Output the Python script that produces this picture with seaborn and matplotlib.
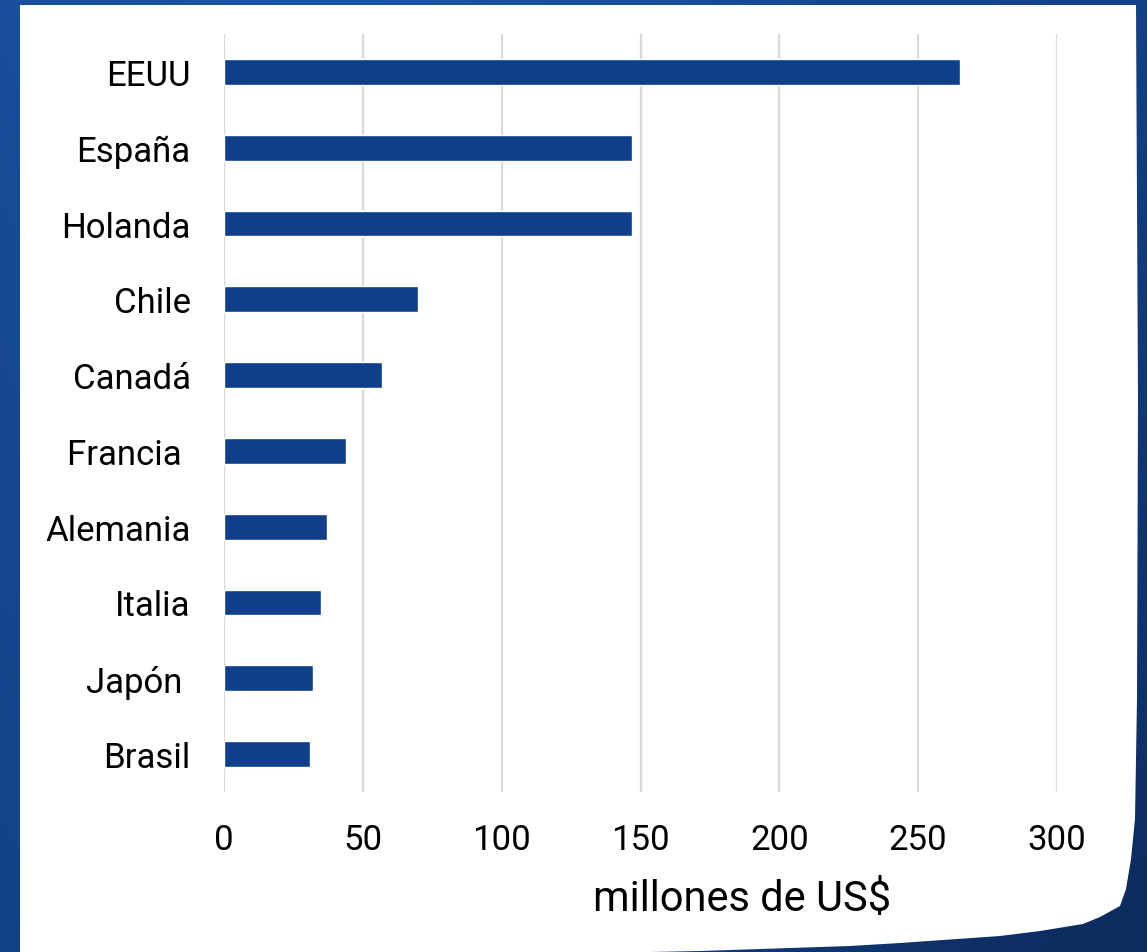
import numpy as np
import pandas as pd
import matplotlib
matplotlib.use("Agg")
import matplotlib.pyplot as plt
from matplotlib.patches import Polygon
from matplotlib.colors import LinearSegmentedColormap
import seaborn as sns

# ---- data ----
countries = ["EEUU", "España", "Holanda", "Chile", "Canadá", "Francia ",
             "Alemania", "Italia", "Japón ", "Brasil"]
values = [265, 147, 147, 70, 57, 44, 37, 35, 32, 31]
x_ticks = [0, 50, 100, 150, 200, 250, 300]
x_label = "millones de US$"

df = pd.DataFrame({"pais": countries, "valor": values})

sns.set_theme(style="white")
plt.rcParams["font.family"] = ["Roboto", "DejaVu Sans"]

W, H = 1147, 953
fig = plt.figure(figsize=(W / 100, H / 100), dpi=100)

# ---- background: blue gradient ----
bg = fig.add_axes([0, 0, 1, 1])
bg.set_axis_off()
yy, xx = np.mgrid[0:1:200j, 0:1:240j]
field = 0.55 + 0.35 * np.sin(np.pi * xx * 1.3 + 0.4) * 0.5 + 0.25 * (1 - yy) - 0.25 * yy * xx
field = np.clip(field, 0, 1)
cmap = LinearSegmentedColormap.from_list("bl", ["#0d2c5e", "#123e80", "#1a53a3"])
bg.imshow(field, cmap=cmap, extent=[0, W, 0, H], origin="upper", aspect="auto")
bg.set_xlim(0, W)
bg.set_ylim(0, H)

page_px = [(20, 6), (1136, 6), (1138, 400), (1137, 700), (1135, 820), (1131, 860),
           (1126, 890), (1120, 907), (1100, 918), (1083, 925), (1040, 932),
           (1000, 937), (900, 944), (850, 947), (700, 952), (500, 956), (20, 960)]
page = Polygon([(x, H - y) for x, y in page_px], closed=True,
               facecolor="white", edgecolor="none")
bg.add_patch(page)

# ---- chart ----
ax = fig.add_axes([224 / W, (H - 793) / H, (1057 - 224) / W, (793 - 35) / H])
ax.set_facecolor("none")
sns.barplot(data=df, x="valor", y="pais", orient="h", color="#0f3f8b",
            saturation=1, width=0.34, ax=ax, zorder=3)

ax.set_xlim(0, 300)
ax.set_xticks(x_ticks)
ax.set_xticklabels([str(t) for t in x_ticks])
ax.xaxis.grid(True, color="#d9d9d9", linewidth=1.6, zorder=0)
ax.yaxis.grid(False)
for s in ax.spines.values():
    s.set_visible(False)
ax.tick_params(axis="both", length=0, colors="black")
ax.tick_params(axis="y", labelsize=25, pad=24)
ax.tick_params(axis="x", labelsize=25, pad=22)
ax.set_xlabel("")
ax.set_ylabel("")

fig.text(742 / W, 1 - 900 / H, x_label, ha="center", va="center",
         fontsize=30, color="black")

fig.savefig("out.png", dpi=100)
